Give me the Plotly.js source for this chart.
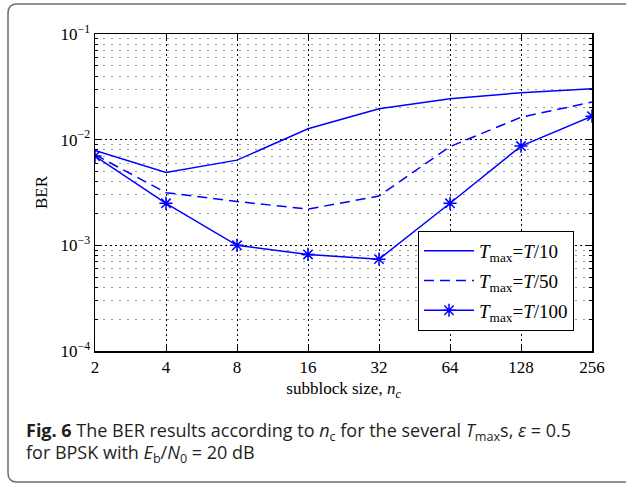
<!DOCTYPE html>
<html>
<head>
<meta charset="utf-8">
<script src="https://cdn.plot.ly/plotly-3.0.1.min.js"></script>
<style>
  html, body { margin: 0; padding: 0; background: #fff; }
  #chart { width: 626px; height: 484px; }
</style>
</head>
<body>
<div id="chart"></div>
<script>
// Subblock sizes n_c
const blockSizes = [2, 4, 8, 16, 32, 64, 128, 256];
const blockLabels = ['2', '4', '8', '16', '32', '64', '128', '256'];

// BER for each T_max
const berT10  = [7.9e-3, 4.9e-3, 6.4e-3, 1.27e-2, 1.96e-2, 2.44e-2, 2.78e-2, 3.03e-2];
const berT50  = [7.2e-3, 3.15e-3, 2.6e-3, 2.2e-3, 2.93e-3, 8.6e-3, 1.63e-2, 2.27e-2];
const berT100 = [7.0e-3, 2.5e-3, 1.0e-3, 8.2e-4, 7.4e-4, 2.5e-3, 8.7e-3, 1.67e-2];

const seriesNames = [
  '<i>T</i><sub>max</sub>=<i>T</i>/10',
  '<i>T</i><sub>max</sub>=<i>T</i>/50',
  '<i>T</i><sub>max</sub>=<i>T</i>/100'
];

// y axis decades and the minor lines between them
const yDecades = [1e-4, 1e-3, 1e-2, 1e-1];
const yDecadeLabels = ['10<sup>\u22124</sup>', '10<sup>\u22123</sup>', '10<sup>\u22122</sup>', '10<sup>\u22121</sup>'];
const yMinor = [];
[1e-4, 1e-3, 1e-2].forEach(d => { for (let k = 2; k <= 9; k++) yMinor.push(k * d); });

const BLUE = '#0000ff';
const serif = 'Liberation Serif';

// plot area geometry (pixels)
const W = 626, H = 484;
const M = { l: 95, r: 34, t: 34, b: 133 };
const pw = W - M.l - M.r, ph = H - M.t - M.b;
const px = x => (x - M.l) / pw;
const py = y => (H - M.b - y) / ph;

const traces = [
  {
    x: blockSizes, y: berT10, name: seriesNames[0], legendgroup: 'a',
    mode: 'lines', line: { color: BLUE, width: 1.5 }
  },
  {
    x: blockSizes, y: berT50, name: seriesNames[1], legendgroup: 'b',
    mode: 'lines', line: { color: BLUE, width: 1.5, dash: '10px,6px' }
  },
  {
    x: blockSizes, y: berT100, name: seriesNames[2], legendgroup: 'c',
    mode: 'lines+markers', line: { color: BLUE, width: 1.5 },
    marker: { symbol: 'asterisk-open', size: 11, color: BLUE, line: { color: BLUE, width: 1.5 } }
  }
];

// rounded frame around the figure and its caption
const r = 9;
const fx0 = 8, fy0 = 4, fx1 = 640, fy1 = 482;
const framePath = [
  `M ${px(fx0 + r)},${py(fy0)}`,
  `L ${px(fx1 - r)},${py(fy0)}`,
  `Q ${px(fx1)},${py(fy0)} ${px(fx1)},${py(fy0 + r)}`,
  `L ${px(fx1)},${py(fy1 - r)}`,
  `Q ${px(fx1)},${py(fy1)} ${px(fx1 - r)},${py(fy1)}`,
  `L ${px(fx0 + r)},${py(fy1)}`,
  `Q ${px(fx0)},${py(fy1)} ${px(fx0)},${py(fy1 - r)}`,
  `L ${px(fx0)},${py(fy0 + r)}`,
  `Q ${px(fx0)},${py(fy0)} ${px(fx0 + r)},${py(fy0)} Z`
].join(' ');

const captionFont = { family: 'Open Sans', size: 18, color: '#231f20' };

const layout = {
  width: W, height: H,
  margin: M,
  paper_bgcolor: '#ffffff',
  plot_bgcolor: '#ffffff',
  showlegend: true,
  font: { family: serif, size: 17, color: '#000' },
  xaxis: {
    type: 'log',
    range: [Math.log10(2), Math.log10(256)],
    tickmode: 'array', tickvals: blockSizes, ticktext: blockLabels,
    ticks: 'inside', ticklen: 5, tickwidth: 1, tickcolor: '#000',
    showline: true, linecolor: '#000', linewidth: 1.5, mirror: 'allticks',
    showgrid: true, gridcolor: '#000', gridwidth: 1, griddash: '2px,3px',
    zeroline: false,
    tickfont: { family: serif, size: 17, color: '#000' },
    title: { text: 'subblock size, <i>n</i><sub><i>c</i></sub>', standoff: 6,
             font: { family: serif, size: 17, color: '#000' } }
  },
  yaxis: {
    type: 'log',
    range: [-4, -1],
    tickmode: 'array', tickvals: yDecades, ticktext: yDecadeLabels,
    ticks: 'inside', ticklen: 5, tickwidth: 1, tickcolor: '#000',
    showline: true, linecolor: '#000', linewidth: 1.5, mirror: 'allticks',
    showgrid: true, gridcolor: '#000', gridwidth: 1, griddash: '2px,3px',
    zeroline: false,
    minor: {
      tickmode: 'array', tickvals: yMinor,
      ticks: 'inside', ticklen: 3, tickcolor: '#000',
      showgrid: true, gridcolor: '#999', gridwidth: 1, griddash: '2px,6px'
    },
    tickfont: { family: serif, size: 17, color: '#000' },
    title: { text: 'BER', standoff: 8, font: { family: serif, size: 17, color: '#000' } }
  },
  legend: {
    x: px(418), y: py(231), xanchor: 'left', yanchor: 'top',
    bgcolor: '#ffffff', bordercolor: '#000', borderwidth: 1,
    font: { family: serif, size: 19, color: '#000' },
    tracegroupgap: 2, itemwidth: 50
  },
  shapes: [
    { type: 'path', xref: 'paper', yref: 'paper', path: framePath,
      line: { color: '#6d6d6d', width: 1.5 }, fillcolor: 'rgba(0,0,0,0)', layer: 'below' }
  ],
  annotations: [
    { xref: 'paper', yref: 'paper', x: px(24), y: py(431), xanchor: 'left', yanchor: 'middle',
      showarrow: false, align: 'left', font: captionFont,
      text: '<b>Fig. 6</b> The BER results according to <i>n</i><sub>c</sub> for the several <i>T</i><sub>max</sub>s, <i>\u03b5</i> = 0.5' },
    { xref: 'paper', yref: 'paper', x: px(24), y: py(453), xanchor: 'left', yanchor: 'middle',
      showarrow: false, align: 'left', font: captionFont,
      text: 'for BPSK with <i>E</i><sub>b</sub>/<i>N</i><sub>0</sub> = 20 dB' }
  ]
};

Plotly.newPlot('chart', traces, layout, { staticPlot: true, displayModeBar: false });
</script>
</body>
</html>
